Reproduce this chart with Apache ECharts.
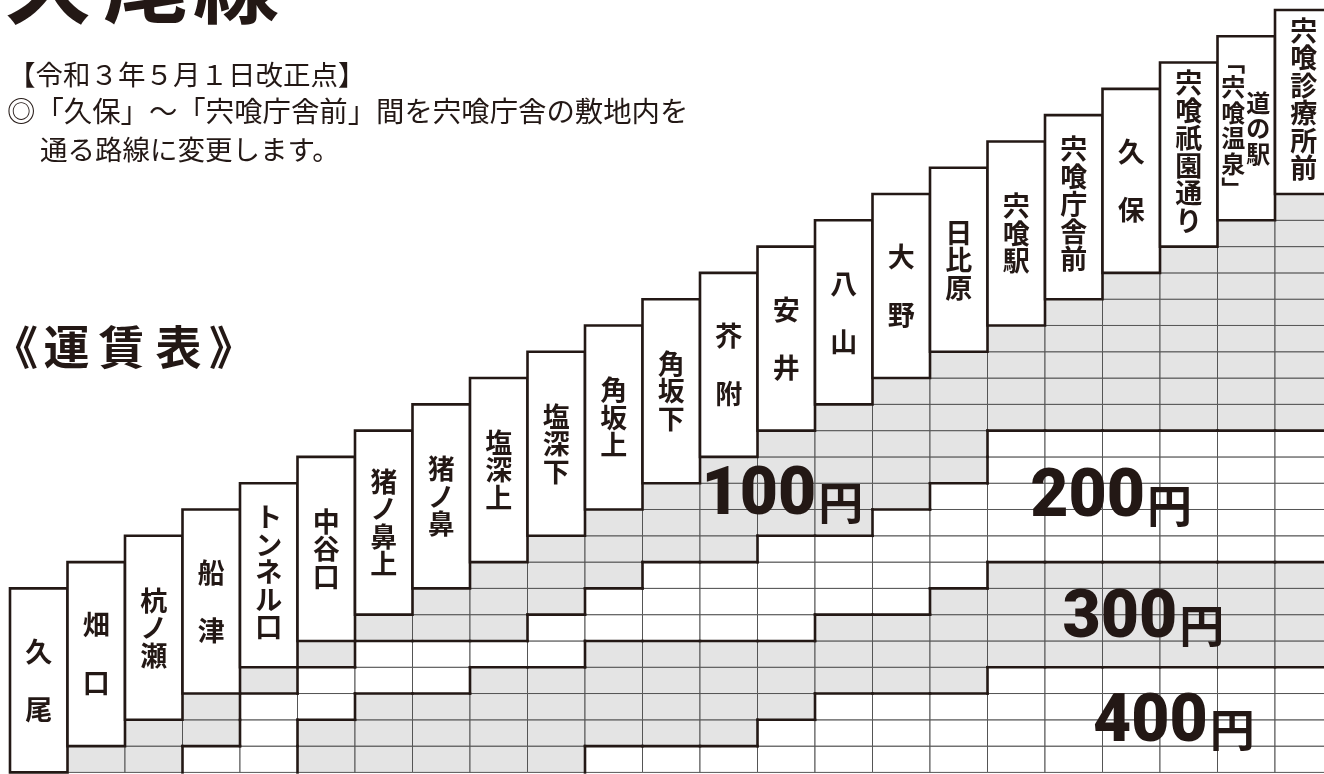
<!DOCTYPE html>
<html>
<head>
<meta charset="utf-8">
<script src="https://cdn.jsdelivr.net/npm/echarts@6/dist/echarts.min.js"></script>
<style>
html,body{margin:0;padding:0;background:#ffffff;}
#chart{width:1324px;height:774px;}
</style>
</head>
<body>
<div id="chart"></div>
<script>
// ---- data ----
const stations = ['久尾','畑口','杭ノ瀬','船津','トンネル口','中谷口','猪ノ鼻上','猪ノ鼻','塩深上','塩深下','角坂上','角坂下','芥附','安井','八山','大野','日比原','宍喰駅','宍喰庁舎前','久保','宍喰祇園通り','道の駅\n「宍喰温泉」','宍喰診療所前'];
const fareZones = [100, 200, 300, 400];
// faresTo[c][r] : fare (yen) between station c and station r (r < c), r = 0 is 久尾
const faresTo = [
  [],
  [100],
  [100,100],
  [200,100,100],
  [200,200,200,100],
  [300,300,200,200,100],
  [300,300,300,200,200,100],
  [300,300,300,200,200,100,100],
  [300,300,300,300,200,100,100,100],
  [300,300,300,300,200,200,100,100,100],
  [400,300,300,300,300,200,200,100,100,100],
  [400,300,300,300,300,200,200,200,100,100,100],
  [400,300,300,300,300,200,200,200,100,100,100,100],
  [400,400,300,300,300,200,200,200,200,100,100,100,100],
  [400,400,400,300,300,300,200,200,200,100,100,100,100,100],
  [400,400,400,300,300,300,200,200,200,200,100,100,100,100,100],
  [400,400,400,300,300,300,300,200,200,200,200,100,100,100,100,100],
  [400,400,400,400,300,300,300,300,200,200,200,200,200,100,100,100,100],
  [400,400,400,400,300,300,300,300,200,200,200,200,200,100,100,100,100,100],
  [400,400,400,400,300,300,300,300,200,200,200,200,200,100,100,100,100,100,100],
  [400,400,400,400,300,300,300,300,200,200,200,200,200,100,100,100,100,100,100,100],
  [400,400,400,400,300,300,300,300,200,200,200,200,200,100,100,100,100,100,100,100,100],
  [400,400,400,400,300,300,300,300,200,200,200,200,200,100,100,100,100,100,100,100,100,100]
];
const noticeLines = ['【令和３年５月１日改正点】','◎「久保」～「宍喰庁舎前」間を宍喰庁舎の敷地内を','通る路線に変更します。'];

// ---- build ----
const INK = '#231815';
const GRAY = '#e4e4e4';
const HEADER_ROWS = 7;
const zoneFill = {100: GRAY, 200: '#ffffff', 300: GRAY, 400: '#ffffff'};
const zoneLabelAt = {100: [14.02, 10.46], 200: [19.74, 10.38], 300: [20.30, 5.79], 400: [20.83, 1.83]};

const cellData = [];
faresTo.forEach((col, c) => col.forEach((f, r) => cellData.push([c, r, f])));
function fareAt(c, r) {
  if (c < 0 || c >= faresTo.length || r < 0 || r >= c) return null;
  return faresTo[c][r];
}
function rectOf(api, c0, r0, c1, r1) {
  const a = api.coord([c0, r1]);
  const b = api.coord([c1, r0]);
  return {x: a[0], y: a[1], width: b[0] - a[0], height: b[1] - a[1]};
}
const vert = ch => ch === '「' ? '﹁' : (ch === '」' ? '﹂' : ch);
const CJK = '"Noto Sans CJK JP"';

const chart = echarts.init(document.getElementById('chart'), null, {renderer: 'canvas'});
const option = {
  animation: false,
  backgroundColor: '#ffffff',
  grid: {left: 10, top: 0, right: 0, bottom: 0, show: false},
  xAxis: {type: 'value', min: 0, max: 22.852, show: false},
  yAxis: {type: 'value', min: -0.061, max: 29.38, show: false},
  graphic: [
    {type: 'text', x: 47.5, y: 27, style: {text: '久', font: 'bold 86px ' + CJK, fill: INK, align: 'center', verticalAlign: 'bottom'}},
    {type: 'text', x: 146, y: 27, style: {text: '尾', font: 'bold 86px ' + CJK, fill: INK, align: 'center', verticalAlign: 'bottom'}},
    {type: 'text', x: 236, y: 27, style: {text: '線', font: 'bold 86px ' + CJK, fill: INK, align: 'center', verticalAlign: 'bottom'}},
    {type: 'text', x: 8, y: 75, style: {text: noticeLines[0], font: '27.5px ' + CJK, fill: INK, align: 'left', verticalAlign: 'middle'}},
    {type: 'text', x: 7, y: 111, style: {text: noticeLines[1], font: '28.4px ' + CJK, fill: INK, align: 'left', verticalAlign: 'middle'}},
    {type: 'text', x: 40, y: 150, style: {text: noticeLines[2], font: '27.5px ' + CJK, fill: INK, align: 'left', verticalAlign: 'middle'}},
    {type: 'text', x: 15, y: 347, style: {text: '《', font: 'bold 46px ' + CJK, fill: INK, align: 'center', verticalAlign: 'middle'}},
    {type: 'text', x: 66.5, y: 347, style: {text: '運', font: 'bold 46px ' + CJK, fill: INK, align: 'center', verticalAlign: 'middle'}},
    {type: 'text', x: 121.5, y: 347, style: {text: '賃', font: 'bold 46px ' + CJK, fill: INK, align: 'center', verticalAlign: 'middle'}},
    {type: 'text', x: 178.5, y: 347, style: {text: '表', font: 'bold 46px ' + CJK, fill: INK, align: 'center', verticalAlign: 'middle'}},
    {type: 'text', x: 232, y: 347, style: {text: '》', font: 'bold 46px ' + CJK, fill: INK, align: 'center', verticalAlign: 'middle'}}
  ],
  series: [
    {
      name: 'cells', type: 'custom', coordinateSystem: 'cartesian2d', z: 2, clip: false,
      data: cellData,
      renderItem: (params, api) => {
        const c = api.value(0), r = api.value(1), f = api.value(2);
        return {type: 'rect', shape: rectOf(api, c, r, c + 1, r + 1),
          style: {fill: zoneFill[f], stroke: '#555555', lineWidth: 1}};
      }
    },
    {
      name: 'zoneEdges', type: 'custom', coordinateSystem: 'cartesian2d', z: 3, clip: false,
      data: cellData,
      renderItem: (params, api) => {
        const c = api.value(0), r = api.value(1), f = api.value(2);
        const children = [];
        const below = fareAt(c, r - 1);
        if (below !== null && below !== f) {
          const a = api.coord([c, r]), b = api.coord([c + 1, r]);
          children.push({type: 'line', shape: {x1: a[0], y1: a[1], x2: b[0], y2: b[1]},
            style: {stroke: INK, lineWidth: 2.6, lineCap: 'square'}});
        }
        const left = fareAt(c - 1, r);
        if (left !== null && left !== f) {
          const a = api.coord([c, r]), b = api.coord([c, r + 1]);
          children.push({type: 'line', shape: {x1: a[0], y1: a[1], x2: b[0], y2: b[1]},
            style: {stroke: INK, lineWidth: 2.6, lineCap: 'square'}});
        }
        return {type: 'group', children};
      }
    },
    {
      name: 'stations', type: 'custom', coordinateSystem: 'cartesian2d', z: 4, clip: false,
      data: stations.map((s, i) => ({name: s, value: [i]})),
      renderItem: (params, api) => {
        const c = api.value(0);
        const box = rectOf(api, c, c, c + 1, c + HEADER_ROWS);
        const cx = box.x + box.width / 2, cy = box.y + box.height / 2;
        const lines = stations[params.dataIndex].split('\n');
        const children = [{type: 'rect', shape: box,
          style: {fill: '#ffffff', stroke: INK, lineWidth: 2.6}}];
        const offsets = lines.length === 1 ? [0] : [12, -13];
        lines.forEach((ln, k) => {
          const chars = Array.from(ln);
          const lh = chars.length <= 2 ? 58 : (lines.length > 1 ? 25.5 : 27.5);
          children.push({type: 'text', x: cx + offsets[k], y: cy - (chars.length > 4 ? 3 : 0),
            style: {text: chars.map(vert).join('\n'), fill: INK,
              font: (lines.length > 1 ? 'bold 24px ' : 'bold 27px ') + CJK,
              lineHeight: lh, align: 'center', verticalAlign: 'middle'}});
        });
        return {type: 'group', children};
      }
    },
    {
      name: 'zoneLabels', type: 'custom', coordinateSystem: 'cartesian2d', z: 5, clip: false,
      data: fareZones.map(f => ({value: zoneLabelAt[f].concat([f])})),
      renderItem: (params, api) => {
        const p = api.coord([api.value(0), api.value(1)]);
        const f = api.value(2);
        return {type: 'group', children: [
          {type: 'text', x: p[0], y: p[1], style: {text: String(f), fill: INK,
            font: '900 66px Roboto, "Liberation Sans", sans-serif', align: 'right', verticalAlign: 'middle'}},
          {type: 'text', x: p[0] + 2, y: p[1] + 6, style: {text: '円', fill: INK,
            font: 'bold 45px ' + CJK, align: 'left', verticalAlign: 'middle'}}
        ]};
      }
    }
  ]
};
chart.setOption(option);
</script>
</body>
</html>
